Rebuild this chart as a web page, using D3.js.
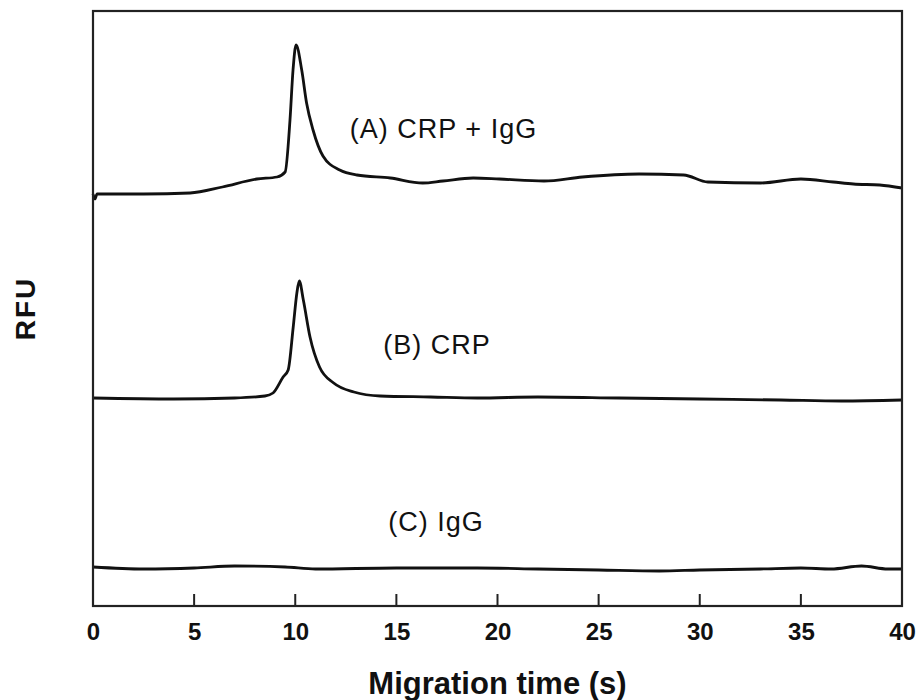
<!DOCTYPE html>
<html>
<head>
<meta charset="utf-8">
<script src="https://cdn.jsdelivr.net/npm/d3@7"></script>
<style>
  body { margin: 0; background: #fff; }
  text { font-family: "Liberation Sans", Arial, Helvetica, sans-serif; }
</style>
</head>
<body>
<svg id="chart"></svg>
<script>
const width = 918;
const height = 700;

// plot frame (px)
const margin = {top: 11, right: 16, bottom: 94, left: 93};

// migration time (s) and trace values (RFU, arbitrary offset units)
const timeA = [0, 0.1, 0.2, 2.5, 4.8, 6.4, 8.1, 9.1, 9.5, 9.74, 9.89, 10.04, 10.32, 10.56, 10.88, 11.37, 12.2, 13.05, 14.7, 16.3, 17.3, 18.8, 20.1, 22.3, 24.2, 27, 29.2, 30.4, 33, 35, 36.6, 37.6, 38.9, 40];
const rfuA  = [412, 407, 412, 412, 413, 419, 427, 429, 434, 486, 536, 561, 536, 503, 476, 450, 436, 431, 428, 423, 425, 428, 427, 425, 429, 432, 431, 424, 423, 427, 424, 422, 421, 418];

const timeB = [0, 4, 7, 8.5, 8.9, 9.4, 9.65, 9.9, 10.08, 10.2, 10.4, 10.73, 11.2, 11.9, 12.9, 14.2, 16.7, 19, 22, 26, 30, 34, 37, 40];
const rfuB  = [208, 207, 208, 210, 213, 229, 236, 279, 313, 325, 306, 269, 239, 223, 214, 210, 209, 208, 209, 208, 207, 206, 205, 206];

const timeC = [0, 2.5, 5, 7, 9.5, 11, 15, 19, 22, 25, 28, 30, 33, 35, 36.5, 38, 39.3, 40];
const rfuC  = [39, 37, 38, 40, 39, 37, 38, 38, 37, 36, 35, 36, 37, 38, 37, 40, 37, 37];

const labels = ["(A) CRP + IgG", "(B) CRP", "(C) IgG"];
const labelTime = [12.7, 14.35, 14.6];
const labelRfu = [468, 252, 75];

const xTicks = [0, 5, 10, 15, 20, 25, 30, 35, 40];

const svg = d3.select("#chart")
  .attr("width", width)
  .attr("height", height)
  .attr("viewBox", [0, 0, width, height]);

const x = d3.scaleLinear()
  .domain([0, 40])
  .range([margin.left, width - margin.right]);

const y = d3.scaleLinear()
  .domain([0, 595])
  .range([height - margin.bottom, margin.top]);

const line = d3.line()
  .x(d => x(d[0]))
  .y(d => y(d[1]))
  .curve(d3.curveMonotoneX);

const series = [
  d3.zip(timeA, rfuA),
  d3.zip(timeB, rfuB),
  d3.zip(timeC, rfuC)
];

svg.append("g")
  .attr("fill", "none")
  .attr("stroke", "#111")
  .attr("stroke-width", 2.8)
  .attr("stroke-linejoin", "round")
  .selectAll("path")
  .data(series)
  .join("path")
    .attr("d", line);

// x axis labels
const xAxis = svg.append("g")
  .attr("transform", `translate(0,${y(0)})`)
  .call(d3.axisBottom(x)
    .tickValues(xTicks)
    .tickSize(0)
    .tickPadding(17));

xAxis.select(".domain").remove();
xAxis.selectAll(".tick text")
  .attr("fill", "#111")
  .style("font-size", "24px")
  .style("font-weight", "bold");

// inward tick marks
svg.append("g")
  .attr("stroke", "#222")
  .attr("stroke-width", 2)
  .selectAll("line")
  .data(xTicks.slice(1, -1))
  .join("line")
    .attr("x1", d => x(d))
    .attr("x2", d => x(d))
    .attr("y1", y(0))
    .attr("y2", y(0) - 12);

// frame
svg.append("rect")
  .attr("x", x(0))
  .attr("y", y(595))
  .attr("width", x(40) - x(0))
  .attr("height", y(0) - y(595))
  .attr("fill", "none")
  .attr("stroke", "#222")
  .attr("stroke-width", 2.2);

// trace labels
svg.append("g")
  .selectAll("text")
  .data(labels)
  .join("text")
    .attr("x", (d, i) => x(labelTime[i]))
    .attr("y", (d, i) => y(labelRfu[i]))
    .attr("fill", "#111")
    .style("font-size", "27px")
    .style("letter-spacing", "1px")
    .text(d => d);

// axis titles
svg.append("text")
  .attr("x", (x(0) + x(40)) / 2)
  .attr("y", 694)
  .attr("text-anchor", "middle")
  .attr("fill", "#111")
  .style("font-size", "31px")
  .style("font-weight", "bold")
  .text("Migration time (s)");

svg.append("text")
  .attr("transform", `translate(35,${(y(0) + y(595)) / 2}) rotate(-90)`)
  .attr("text-anchor", "middle")
  .attr("fill", "#111")
  .style("font-size", "28px")
  .style("font-weight", "bold")
  .style("letter-spacing", "2px")
  .text("RFU");
</script>
</body>
</html>
